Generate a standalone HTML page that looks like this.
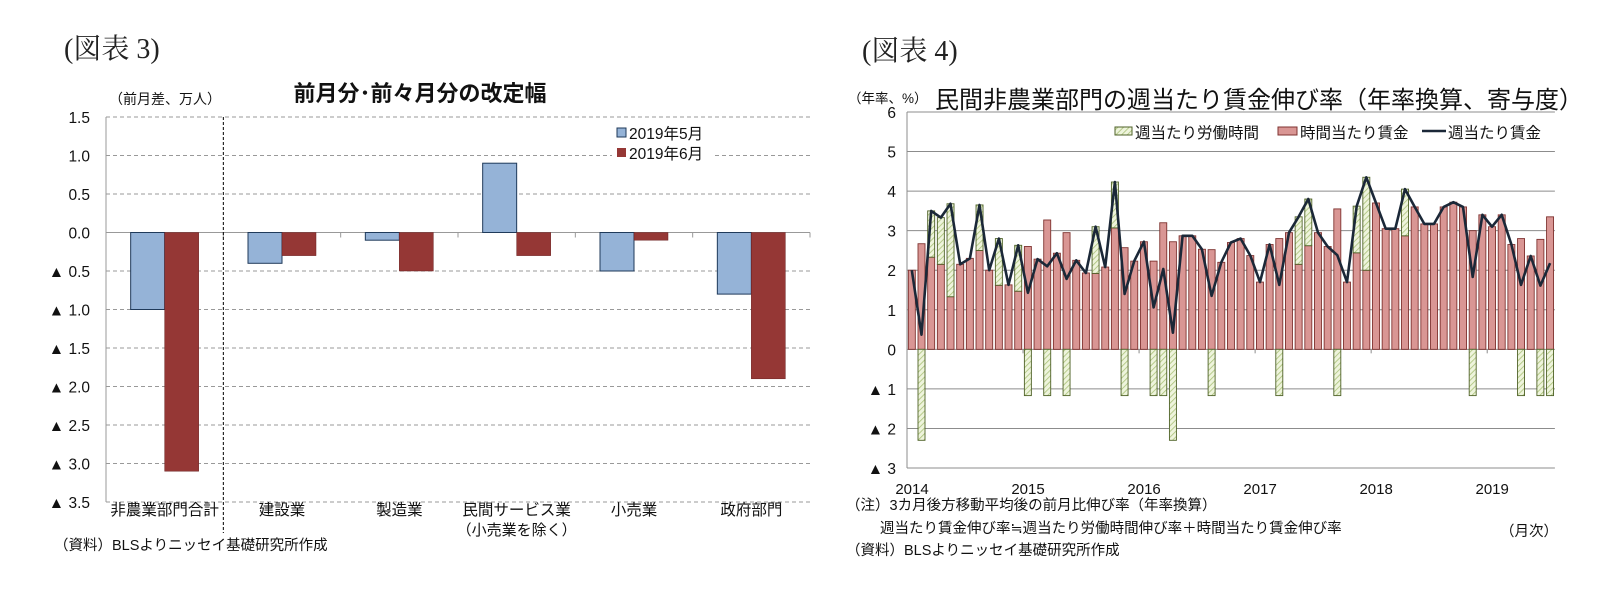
<!DOCTYPE html>
<html><head><meta charset="utf-8">
<style>
html,body{margin:0;padding:0;background:#fff;}
svg{display:block;font-family:"Liberation Sans","Noto Sans CJK JP",sans-serif;}
.serif{font-family:"Liberation Serif","Noto Serif CJK SC",serif;}
</style></head>
<body>
<svg id="root" width="1616" height="599" viewBox="0 0 1616 599" xmlns="http://www.w3.org/2000/svg">
<defs>
<pattern id="hatch" patternUnits="userSpaceOnUse" width="4" height="4" patternTransform="rotate(45)">
<rect width="4" height="4" fill="#eef4dc"/>
<line x1="0" y1="0" x2="0" y2="4" stroke="#a9c178" stroke-width="1.6"/>
</pattern>
</defs>
<text class="serif" x="64" y="58" font-size="28" fill="#222">(図表 3)</text>
<text x="420" y="101" font-size="22" font-weight="bold" text-anchor="middle" fill="#111">前月分･前々月分の改定幅</text>
<text x="165" y="104" font-size="14" text-anchor="middle" fill="#111">（前月差、万人）</text>
<g id="left"></g>
<text x="54" y="550" font-size="14.5" fill="#111">（資料）BLSよりニッセイ基礎研究所作成</text>

<text class="serif" x="862" y="60" font-size="28" fill="#222">(図表 4)</text>
<text x="848" y="103" font-size="13.5" fill="#111">（年率、%）</text>
<text x="935" y="108" font-size="24" fill="#111">民間非農業部門の週当たり賃金伸び率（年率換算、寄与度）</text>
<g id="right"></g>
<text x="846" y="510" font-size="14.5" fill="#111">（注）3カ月後方移動平均後の前月比伸び率（年率換算）</text>
<text x="880" y="533" font-size="14.5" fill="#111">週当たり賃金伸び率≒週当たり労働時間伸び率＋時間当たり賃金伸び率</text>
<text x="846" y="555" font-size="14.5" fill="#111">（資料）BLSよりニッセイ基礎研究所作成</text>
<text x="1500" y="536" font-size="14.5" fill="#111">（月次）</text>
</svg>
<script>
// ---- Left chart data ----
const leftCategories = ["非農業部門合計","建設業","製造業","民間サービス業","小売業","政府部門"];
const leftMay = [-1.0,-0.4,-0.1,0.9,-0.5,-0.8];
const leftJune = [-3.1,-0.3,-0.5,-0.3,-0.1,-1.9];
const leftTicks = [1.5,1.0,0.5,0.0,-0.5,-1.0,-1.5,-2.0,-2.5,-3.0,-3.5];

// ---- Right chart data ----
const rightYears = ["2014","2015","2016","2017","2018","2019"];
const hourlyWage = [2.0,2.67,2.33,2.15,1.33,2.15,2.3,2.5,2.0,1.62,
1.63,1.47,2.6,2.28,3.27,2.43,2.95,2.25,1.93,1.92,
2.08,3.07,2.57,2.23,2.72,2.23,3.2,2.72,2.87,2.87,
2.53,2.52,2.2,2.7,2.8,2.37,1.7,2.65,2.8,2.95,
2.15,2.62,2.95,2.6,3.55,1.7,2.44,2.0,3.7,3.05,
3.05,2.87,3.6,3.17,3.17,3.6,3.72,3.6,3.0,3.4,
3.1,3.4,2.65,2.8,2.36,2.78,3.35];
const weeklyHours = [0,-2.3,1.17,1.18,2.35,0,0,1.15,0,1.18,
0,1.16,-1.17,0,-1.17,0,-1.17,0,0,1.18,
0,1.16,-1.17,0,0,-1.17,-1.17,-2.3,0,0,
0,-1.17,0,0,0,0,0,0,-1.17,0,
1.2,1.18,0,0,-1.17,0,1.18,2.35,0,0,
0,1.18,0,0,0,0,0,0,-1.17,0,
0,0,0,-1.17,0,-1.17,-1.17];
const rightTicks = [6,5,4,3,2,1,0,-1,-2,-3];

const NS="http://www.w3.org/2000/svg";
function mk(parent,tag,attrs,text){const e=document.createElementNS(NS,tag);for(const k in attrs)e.setAttribute(k,attrs[k]);if(text!==undefined)e.textContent=text;parent.appendChild(e);return e;}
function fmtTick(v){const s=Math.abs(v).toFixed(1);return v<0?"▲ "+s:s;}
function fmtTickInt(v){return v<0?"▲ "+Math.abs(v):String(v);}

(function(){
const g=document.getElementById('left');
const x0=106,x1=810,yTop=117,yBot=502,vTop=1.5,vBot=-3.5;
const y=v=>yTop+(vTop-v)/(vTop-vBot)*(yBot-yTop);
const cw=(x1-x0)/leftCategories.length;
const bw=34;
leftTicks.forEach(t=>{
  const yy=y(t);
  let el;
  if(t===0){el=mk(g,'line',{x1:x0,x2:x1,y1:yy,y2:yy,stroke:'#999','stroke-width':1});}
  else{el=mk(g,'line',{x1:x0,x2:x1,y1:yy,y2:yy,stroke:'#999','stroke-width':1,'stroke-dasharray':'4,3'});}
  
  
  const lb=mk(g,'text',{x:90,y:yy+6,'font-size':15.5,'text-anchor':'end',fill:'#111'},fmtTick(t));
  
  
});
const ax=mk(g,'line',{x1:x0,x2:x0,y1:yTop,y2:yBot,stroke:'#999','stroke-width':1});


for(let i=1;i<=leftCategories.length;i++){
  const tk=mk(g,'line',{x1:x0+i*cw,x2:x0+i*cw,y1:y(0),y2:y(0)+5,stroke:'#999'});
  
  
}
leftCategories.forEach((c,i)=>{
  const cx=x0+(i+0.5)*cw;
  const vb=leftMay[i], vr=leftJune[i];
  const b=mk(g,'rect',{x:cx-bw,y:Math.min(y(0),y(vb)),width:bw,height:Math.abs(y(vb)-y(0)),fill:'#95b3d7',stroke:'#1f3a5a','stroke-width':1});
  
  
  const r=mk(g,'rect',{x:cx,y:Math.min(y(0),y(vr)),width:bw,height:Math.abs(y(vr)-y(0)),fill:'#953735',stroke:'#6b2020','stroke-width':0.5});
  
  
  const t=mk(g,'text',{x:cx,y:515,'font-size':15.5,'text-anchor':'middle',fill:'#111'},c);
  
  
  if(i===3){
    const t2=mk(g,'text',{x:cx,y:535,'font-size':15,'text-anchor':'middle',fill:'#111'},'（小売業を除く）');
    
    
  }
});
const dv=mk(g,'line',{x1:x0+cw,x2:x0+cw,y1:yTop,y2:533,stroke:'#000','stroke-width':1,'stroke-dasharray':'3,2'});


const lgbg=mk(g,'rect',{x:612,y:123,width:100,height:40,fill:'#fff'});


const l1=mk(g,'rect',{x:617,y:128,width:9,height:9,fill:'#95b3d7',stroke:'#1f3a5a'});


const l1t=mk(g,'text',{x:629,y:139,'font-size':15.5,fill:'#111'},'2019年5月');


const l2=mk(g,'rect',{x:617,y:148,width:9,height:9,fill:'#953735'});


const l2t=mk(g,'text',{x:629,y:159,'font-size':15.5,fill:'#111'},'2019年6月');


})();

(function(){
const g=document.getElementById('right');
const x0=907,step=9.67,yTop=112,yBot=468,vTop=6,vBot=-3;
const n=hourlyWage.length;
const x1=x0+n*step;
const y=v=>yTop+(vTop-v)/(vTop-vBot)*(yBot-yTop);
const xc=i=>x0+(i+0.5)*step;
const bw=7;
rightTicks.forEach(t=>{
  const yy=y(t);
  const gl=mk(g,'line',{x1:x0,x2:x1,y1:yy,y2:yy,stroke:'#8c8c8c','stroke-width':1});
  
  
  const lb=mk(g,'text',{x:896,y:yy+6,'font-size':15.5,'text-anchor':'end',fill:'#111'},fmtTickInt(t));
  
  
});
const ax=mk(g,'line',{x1:x0,x2:x0,y1:yTop,y2:yBot,stroke:'#8c8c8c'});


rightYears.forEach((yr,k)=>{
  const tx=x0+k*12*step;
  const tk=mk(g,'line',{x1:tx,x2:tx,y1:y(0),y2:y(0)+4,stroke:'#8c8c8c'});
  
  
  const lb=mk(g,'text',{x:tx+5,y:494,'font-size':15,'text-anchor':'middle',fill:'#111'},yr);
  
  
});
for(let i=0;i<n;i++){
  const r=hourlyWage[i], h=weeklyHours[i];
  const rb=mk(g,'rect',{x:xc(i)-bw/2,y:y(r),width:bw,height:y(0)-y(r),fill:'#d99694',stroke:'#7f3330','stroke-width':0.9});
  
  
  if(h!==0){
    const base=h>0?r:0, top=base+h;
    const gb=mk(g,'rect',{x:xc(i)-bw/2,y:Math.min(y(base),y(top)),width:bw,height:Math.abs(y(top)-y(base)),fill:'url(#hatch)',stroke:'#4f6228','stroke-width':0.9});
    
    
  }
}
let d='';
for(let i=0;i<n;i++){d+=(i?'L':'M')+xc(i).toFixed(1)+','+y(hourlyWage[i]+weeklyHours[i]).toFixed(1);}
const ln=mk(g,'path',{d:d,fill:'none',stroke:'#1b2838','stroke-width':2.6,'stroke-linejoin':'round'});


const bg=mk(g,'rect',{x:1110,y:120,width:430,height:22,fill:'#fff'});


const s1=mk(g,'rect',{x:1115,y:127,width:17,height:8,fill:'url(#hatch)',stroke:'#4f6228'});


const t1=mk(g,'text',{x:1135,y:138,'font-size':15.5,fill:'#111'},'週当たり労働時間');


const s2=mk(g,'rect',{x:1278,y:127,width:19,height:8,fill:'#d99694',stroke:'#7f3330'});


const t2=mk(g,'text',{x:1300,y:138,'font-size':15.5,fill:'#111'},'時間当たり賃金');


const s3=mk(g,'line',{x1:1422,x2:1446,y1:131,y2:131,stroke:'#1b2838','stroke-width':2.6});


const t3=mk(g,'text',{x:1448,y:138,'font-size':15.5,fill:'#111'},'週当たり賃金');


})();
</script>
</body></html>
